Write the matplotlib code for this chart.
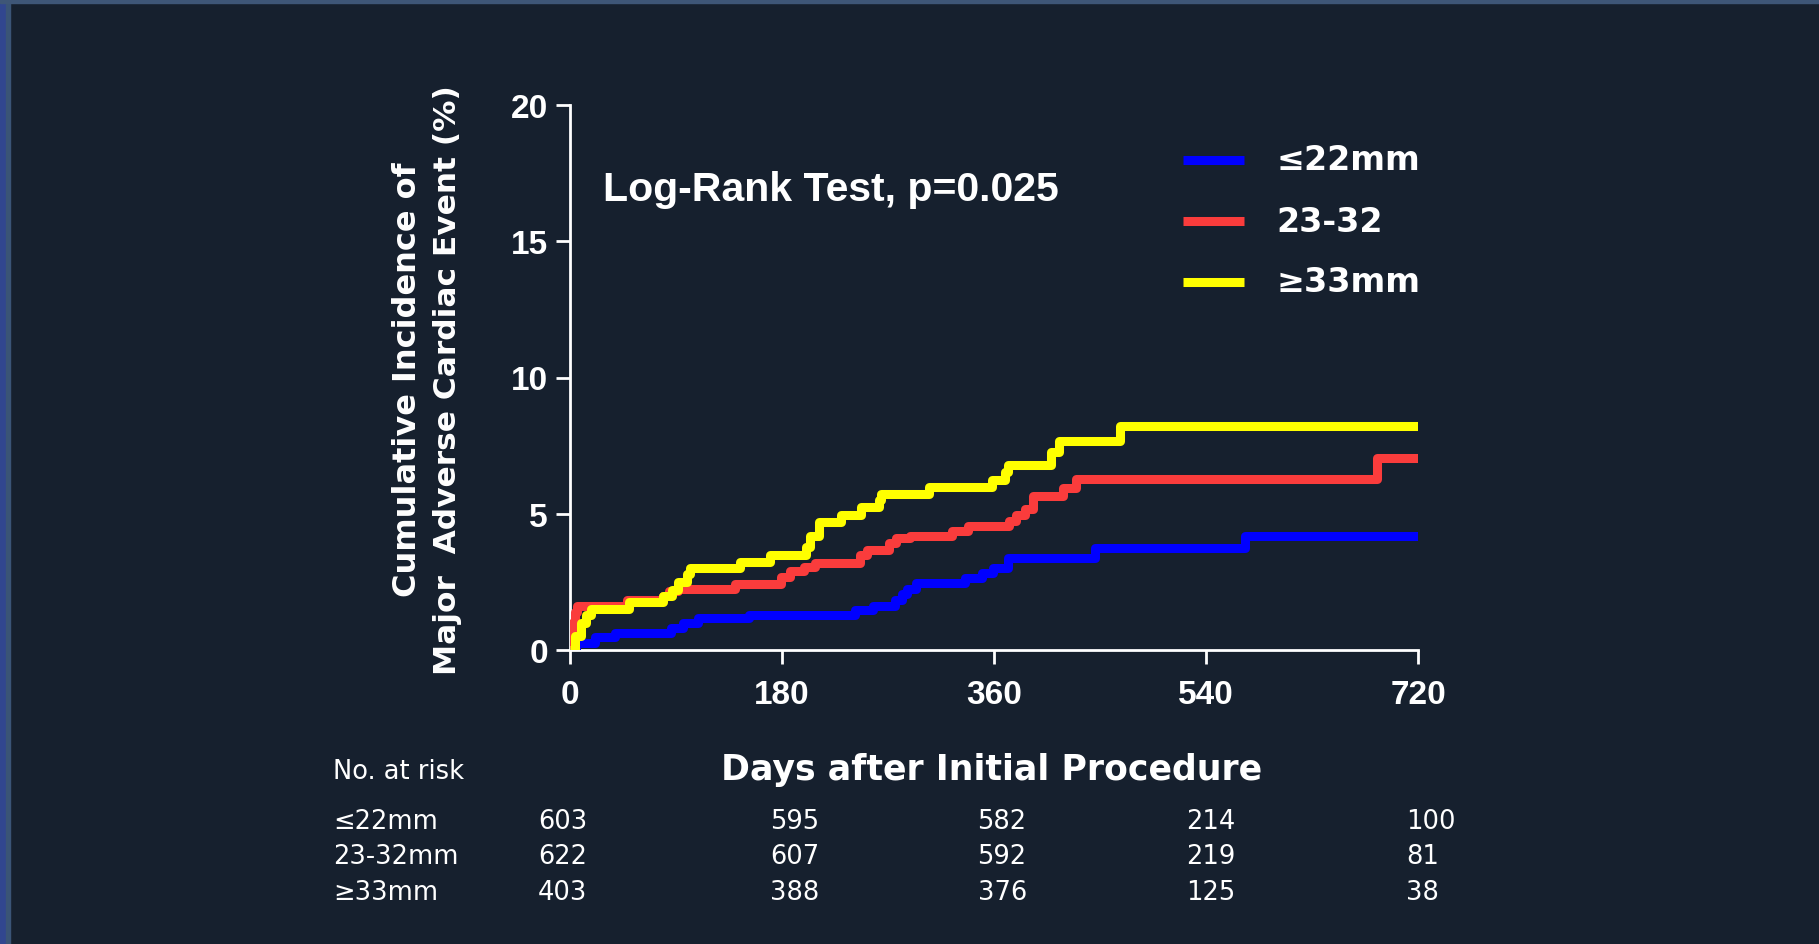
import matplotlib
matplotlib.use("Agg")
from matplotlib import pyplot as plt
from matplotlib.patches import Rectangle
import matplotlib.transforms as mtransforms

# ---- data ----
days_small = [0, 5, 21, 38, 86, 96, 109, 152, 242, 257, 276, 282, 286, 294,
              335, 350, 359, 372, 446, 573, 720]
mace_small = [0, 0.27, 0.47, 0.64, 0.8, 0.99, 1.17, 1.3, 1.48, 1.63, 1.83, 2.04,
              2.25, 2.47, 2.65, 2.84, 3.02, 3.36, 3.73, 4.2, 4.2]

days_mid = [0, 2, 4, 6, 48, 79, 84, 92, 140, 179, 187, 199, 208, 246, 252, 271,
            277, 289, 324, 338, 373, 379, 386, 393, 419, 430, 685, 720]
mace_mid = [0, 1.0, 1.4, 1.63, 1.83, 2.0, 2.16, 2.25, 2.44, 2.69, 2.9, 3.06, 3.2,
            3.48, 3.68, 3.93, 4.1, 4.2, 4.35, 4.54, 4.72, 4.94, 5.16, 5.65, 5.93,
            6.27, 7.06, 7.06]

days_big = [0, 4, 9, 14, 18, 50, 79, 87, 92, 99, 102, 144, 170, 200, 204, 211,
            230, 247, 262, 264, 305, 358, 369, 372, 408, 415, 467, 720]
mace_big = [0, 0.5, 1.0, 1.3, 1.5, 1.75, 2.0, 2.2, 2.5, 2.8, 3.0, 3.23, 3.5, 3.77,
            4.2, 4.7, 4.96, 5.25, 5.5, 5.74, 6.0, 6.23, 6.54, 6.8, 7.26, 7.68,
            8.23, 8.23]

legend_labels = ["\u226422mm", "23-32", "\u226533mm"]
risk_labels = ["\u226422mm", "23-32mm", "\u226533mm"]
risk_small = [603, 595, 582, 214, 100]
risk_mid = [622, 607, 592, 219, 81]
risk_big = [403, 388, 376, 125, 38]
xticks = [0, 180, 360, 540, 720]
yticks = [0, 5, 10, 15, 20]

bg = "#16202e"
colors = ["#0000ff", "#fa3c3c", "#ffff00"]

W, H = 1819, 945
fig = plt.figure(figsize=(W / 100, H / 100), dpi=100, facecolor=bg)

# slide frame strips
fig.patches.append(Rectangle((0, 0), 6 / W, 1, transform=fig.transFigure, color="#31468f", zorder=0))
fig.patches.append(Rectangle((6 / W, 0), 4 / W, 1, transform=fig.transFigure, color="#3a5476", zorder=0))
fig.patches.append(Rectangle((0, 1 - 4 / H), 1, 4 / H, transform=fig.transFigure, color="#3e5677", zorder=0))

ax = fig.add_axes([570 / W, 1 - 651 / H, 848 / W, 545 / H])
ax.set_facecolor(bg)

for d, v, c in zip([days_small, days_mid, days_big], [mace_small, mace_mid, mace_big], colors):
    ax.step(d, v, where="post", color=c, lw=6.5, solid_joinstyle="round", solid_capstyle="butt", zorder=3)

ax.set_xlim(0, 720)
ax.set_ylim(0, 20)
ax.set_xticks(xticks)
ax.set_yticks(yticks)
for s in ["top", "right"]:
    ax.spines[s].set_visible(False)
for s in ["left", "bottom"]:
    ax.spines[s].set_color("white")
    ax.spines[s].set_linewidth(2)
ax.tick_params(colors="white", width=2, length=10, direction="out")
ax.tick_params(axis="x", pad=11)
ax.tick_params(axis="y", pad=6)
for lab in ax.get_xticklabels() + ax.get_yticklabels():
    lab.set_fontfamily("Liberation Sans")
    lab.set_fontweight("bold")
    lab.set_fontsize(24)
    lab.set_color("white")

# y label, two lines
fig.text(407 / W, 1 - 380 / H, "Cumulative Incidence of", rotation=90, ha="center", va="center",
         color="white", fontsize=23, fontweight="bold")
fig.text(447 / W, 1 - 380 / H, "Major  Adverse Cardiac Event (%)", rotation=90, ha="center",
         va="center", color="white", fontsize=22.5, fontweight="bold")

fig.text(603 / W, 1 - 190 / H, "Log-Rank Test, p=0.025", ha="left", va="center", color="white",
         fontsize=29.5, fontweight="bold", family="Liberation Sans")

# legend
for i, (lab, c) in enumerate(zip(legend_labels, colors)):
    yy = 1 - (161 + 61 * i) / H
    fig.add_artist(plt.Line2D([1183 / W, 1244 / W], [yy, yy], transform=fig.transFigure,
                              color=c, lw=6.5, solid_capstyle="butt"))
    fig.text(1276 / W, yy, lab, ha="left", va="center", color="white", fontsize=24, fontweight="bold")

fig.text(992 / W, 1 - 770 / H, "Days after Initial Procedure", ha="center", va="center",
         color="white", fontsize=25, fontweight="bold")

# number at risk table
fig.text(333 / W, 1 - 772 / H, "No. at risk", ha="left", va="center", color="white", fontsize=18.5)
col_x = [-27, 170, 346, 523, 710]
trans = mtransforms.blended_transform_factory(ax.transData, fig.transFigure)
for r, (lab, row) in enumerate(zip(risk_labels, [risk_small, risk_mid, risk_big])):
    yy = 1 - (822 + 35.5 * r) / H
    fig.text(333 / W, yy, lab, ha="left", va="center", color="white", fontsize=18.5)
    for x, n in zip(col_x, row):
        ax.text(x, yy, str(n), transform=trans, ha="left", va="center", color="white",
                fontsize=18.5, clip_on=False)

fig.savefig("out.png", dpi=100, facecolor=bg)
plt.close("all")
